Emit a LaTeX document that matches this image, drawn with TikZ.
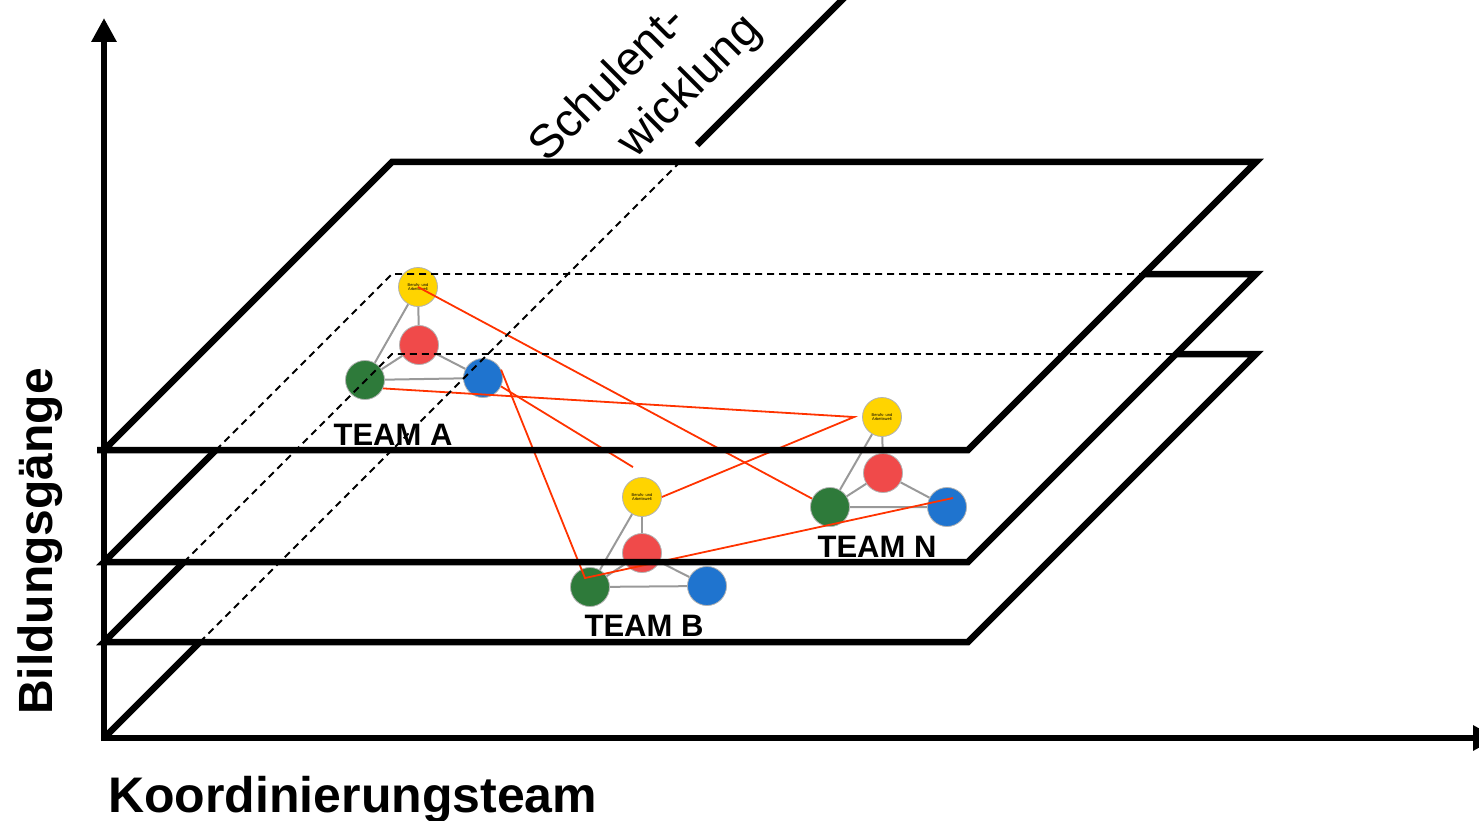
\documentclass[tikz,border=0pt]{standalone}
\usepackage{fontspec}
\setmainfont{Liberation Sans}
\usetikzlibrary{arrows.meta,backgrounds}

\definecolor{ballyellow}{HTML}{FFD400}
\definecolor{ballred}{HTML}{F04A4A}
\definecolor{ballgreen}{HTML}{2E7A3A}
\definecolor{ballblue}{HTML}{1F74CF}
\definecolor{linkred}{HTML}{FF3300}

\begin{document}
\begin{tikzpicture}[x=1pt,y=-1pt]
  \tikzset{plane/.style = {line width=6.5pt}}
  \tikzset{hidden/.style = {line width=1.8pt, dash pattern=on 7pt off 5pt}}
  \tikzset{axis/.style = {line width=6pt, -{Triangle[length=24pt,width=24pt]}}}
  \tikzset{ball/.style = {circle, minimum size=39pt, inner sep=0pt, draw=black!30, line width=0.8pt}}
  \tikzset{spoke/.style = {draw=black!40, line width=2pt}}
  \tikzset{link/.style = {draw=linkred, line width=1.8pt}}
  \tikzset{team/.style = {font=\fontsize{31}{31}\selectfont\bfseries, anchor=base, inner sep=0pt}}
  \tikzset{tiny/.style = {font=\fontsize{4}{4.5}\selectfont, align=center}}

\useasboundingbox (0,0) rectangle (1479,821);

% corners of the three planes
\coordinate (O) at (104,738);
\coordinate (tp1) at (104,450);
\coordinate (tp2) at (968,450);
\coordinate (tp3) at (1256,162);
\coordinate (tp4) at (392,162);
\coordinate (md1) at (104,562);
\coordinate (md2) at (968,562);
\coordinate (md3) at (1256,274);
\coordinate (md4) at (392,274);
\coordinate (md5) at (216,450);
\coordinate (md6) at (1144,274);
\coordinate (lw1) at (104,642);
\coordinate (lw2) at (968,642);
\coordinate (lw3) at (1256,354);
\coordinate (lw4) at (392,354);
\coordinate (lw5) at (184,562);
\coordinate (lw6) at (1176,354);
% depth axis
\coordinate (sa1) at (200,642);
\coordinate (sa2) at (680,162);
\coordinate (sa3) at (697,145);
\coordinate (sa4) at (850,-8);

% teams
\node[ball, fill=ballyellow, tiny] (aY) at (418,287) {Berufs- und\\Arbeitswelt};
\node[ball, fill=ballred]    (aR) at (419,345) {};
\node[ball, fill=ballgreen]  (aG) at (365,380) {};
\node[ball, fill=ballblue]   (aB) at (483,378) {};

\node[ball, fill=ballyellow, tiny] (bY) at (642,497) {Berufs- und\\Arbeitswelt};
\node[ball, fill=ballred]    (bR) at (642,553) {};
\node[ball, fill=ballgreen]  (bG) at (590,587) {};
\node[ball, fill=ballblue]   (bB) at (707,586) {};

\node[ball, fill=ballyellow, tiny] (nY) at (882,417) {Berufs- und\\Arbeitswelt};
\node[ball, fill=ballred]    (nR) at (883,473) {};
\node[ball, fill=ballgreen]  (nG) at (830,507) {};
\node[ball, fill=ballblue]   (nB) at (947,507) {};

\begin{pgfonlayer}{background}
  \foreach \tm in {a,b,n} {
    \draw[spoke] (\tm Y) -- (\tm G) -- (\tm B) -- cycle;
    \draw[spoke] (\tm R) -- (\tm Y);
    \draw[spoke] (\tm R) -- (\tm G);
    \draw[spoke] (\tm R) -- (\tm B);
  }
\end{pgfonlayer}

\node[team] (ta) at (393,445) {TEAM A};
\node[team] (tb) at (644,636) {TEAM B};
\node[team] (tn) at (877,557) {TEAM N};

% links between the teams
\coordinate (stop) at ([xshift=-9pt,yshift=10pt]bY.north);
\draw[link] (aY.center) -- (nG.155);
\draw[link] (aG.-25) -- ([xshift=-8pt]nY.west) -- (bY.east);
\draw[link] (aB.25) -- ([xshift=-5pt,yshift=9pt]bG.center) -- ([xshift=6pt,yshift=9pt]nB.center);
\draw[link] (aB.-25) -- (stop);

% planes
\draw[plane] (97,450) -- (tp2) -- (tp3) -- (tp4) -- (tp1);
\draw[plane] (md6) -- (md3) -- (md2) -- (md1) -- (md5);
\draw[plane] (lw6) -- (lw3) -- (lw2) -- (lw1) -- (lw5);
\draw[hidden] (md5) -- (md4) -- (md6);
\draw[hidden] (lw5) -- (lw4) -- (lw6);

% axes
\draw[plane] (O) -- (sa1);
\draw[hidden] (sa1) -- (sa2);
\draw[plane] (sa3) -- (sa4);
\draw[axis] (104,741) -- (104,18);
\draw[axis] (101,738) -- (1497,738);

\node[font=\fontsize{50}{50}\selectfont\bfseries, anchor=base west, inner sep=0pt] (kt) at (108,812) {Koordinierungsteam};
\node[font=\fontsize{48}{48}\selectfont\bfseries, anchor=base west, inner sep=0pt, rotate=90] (bg) at (52,715) {Bildungsgänge};
\node[font=\fontsize{47}{47}\selectfont, anchor=base west, inner sep=0pt, rotate=45] (se1) at (547,164) {Schulent-};
\node[font=\fontsize{47}{47}\selectfont, anchor=base west, inner sep=0pt, rotate=45] (se2) at (635,160) {wicklung};

\end{tikzpicture}
\end{document}
